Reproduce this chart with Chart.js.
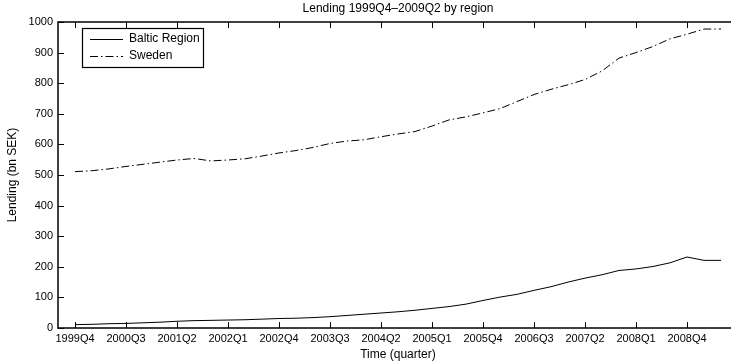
<!DOCTYPE html>
<html>
<head>
<meta charset="utf-8">
<script src="https://cdn.jsdelivr.net/npm/chart.js@4.4.1/dist/chart.umd.min.js"></script>
<style>
  html, body { margin: 0; padding: 0; background: #fff; overflow: hidden; }
  #wrap { width: 745px; height: 364px; }
</style>
</head>
<body>
<div id="wrap"><canvas id="c" width="745" height="364"></canvas></div>
<script>
// Quarterly lending, 1999Q4 .. 2009Q2 (bn SEK)
const quarters = [
  '1999Q4','2000Q1','2000Q2','2000Q3','2000Q4','2001Q1','2001Q2','2001Q3','2001Q4',
  '2002Q1','2002Q2','2002Q3','2002Q4','2003Q1','2003Q2','2003Q3','2003Q4',
  '2004Q1','2004Q2','2004Q3','2004Q4','2005Q1','2005Q2','2005Q3','2005Q4',
  '2006Q1','2006Q2','2006Q3','2006Q4','2007Q1','2007Q2','2007Q3','2007Q4',
  '2008Q1','2008Q2','2008Q3','2008Q4','2009Q1','2009Q2'
];
const balticRegion = [
  11, 12, 14, 15, 17, 19, 22, 24, 25,
  26, 27, 29, 31, 32, 34, 37, 41,
  45, 49, 53, 58, 64, 70, 78, 90,
  101, 110, 123, 135, 150, 163, 174, 188,
  193, 201, 213, 232, 221, 221
];
const sweden = [
  511, 514, 520, 528, 535, 542, 549, 554, 546,
  549, 553, 562, 572, 580, 590, 603, 611,
  615, 625, 634, 642, 660, 680, 690, 703,
  717, 740, 763, 780, 795, 812, 840, 882,
  900, 920, 945, 960, 977, 977
];
// every third quarter gets a labelled tick
const tickEvery = 3;
const yTicks = [0, 100, 200, 300, 400, 500, 600, 700, 800, 900, 1000];

const FONT = '"Liberation Sans", Arial, Helvetica, sans-serif';
const DASH_DOT = [8, 3, 1.5, 3];
const xTickValues = quarters.map((q, i) => i).filter(i => i % tickEvery === 0 && i <= 36);

// Box, inward ticks, title, axis titles and legend in the classic plotting style
const framePlugin = {
  id: 'frame',
  afterDatasetsDraw(chart) {
    const { ctx, chartArea: a, scales } = chart;
    const xs = scales.x, ys = scales.y;
    ctx.save();
    ctx.strokeStyle = '#000';
    ctx.lineWidth = 1;
    // tick marks pointing inward
    ctx.beginPath();
    xTickValues.forEach(v => {
      const px = Math.round(xs.getPixelForValue(v)) + 0.5;
      ctx.moveTo(px, a.bottom); ctx.lineTo(px, a.bottom - 6);
      ctx.moveTo(px, a.top); ctx.lineTo(px, a.top + 6);
    });
    yTicks.forEach(v => {
      const py = Math.round(ys.getPixelForValue(v)) + 0.5;
      ctx.moveTo(a.left, py); ctx.lineTo(a.left + 6, py);
      ctx.moveTo(a.right, py); ctx.lineTo(a.right - 6, py);
    });
    ctx.stroke();
    // axes box
    ctx.lineWidth = 1.5;
    ctx.strokeRect(a.left, a.top, a.right - a.left, a.bottom - a.top);

    // title and axis titles
    ctx.fillStyle = '#000';
    ctx.font = '12px ' + FONT;
    ctx.textAlign = 'center';
    ctx.textBaseline = 'middle';
    const cx = (a.left + a.right) / 2;
    ctx.fillText('Lending 1999Q4\u20132009Q2 by region', cx, 9);
    ctx.fillText('Time (quarter)', cx, 355);
    ctx.save();
    ctx.translate(13, (a.top + a.bottom) / 2);
    ctx.rotate(-Math.PI / 2);
    ctx.fillText('Lending (bn SEK)', 0, 0);
    ctx.restore();

    // legend
    const lx = 82, ly = 28, lw = 121, lh = 39;
    ctx.fillStyle = '#fff';
    ctx.fillRect(lx, ly, lw, lh);
    ctx.lineWidth = 1.2;
    ctx.strokeRect(lx + 0.5, ly + 0.5, lw, lh);
    const rows = [
      { label: 'Baltic Region', dash: [], y: 39 },
      { label: 'Sweden', dash: DASH_DOT, y: 56 }
    ];
    rows.forEach(r => {
      ctx.beginPath();
      ctx.setLineDash(r.dash);
      ctx.lineWidth = 1;
      ctx.moveTo(90, r.y + 0.5); ctx.lineTo(123, r.y + 0.5);
      ctx.stroke();
      ctx.setLineDash([]);
      ctx.fillStyle = '#000';
      ctx.textAlign = 'left';
      ctx.fillText(r.label, 129, r.y);
    });
    ctx.restore();
  }
};

new Chart(document.getElementById('c'), {
  type: 'line',
  data: {
    datasets: [
      {
        label: 'Baltic Region',
        data: balticRegion.map((v, i) => ({ x: i, y: v })),
        borderColor: '#000',
        borderWidth: 1,
        pointRadius: 0,
        tension: 0
      },
      {
        label: 'Sweden',
        data: sweden.map((v, i) => ({ x: i, y: v })),
        borderColor: '#000',
        borderWidth: 1,
        borderDash: DASH_DOT,
        pointRadius: 0,
        tension: 0
      }
    ]
  },
  options: {
    responsive: false,
    animation: false,
    events: [],
    layout: { padding: { left: 0, right: 7, top: 22, bottom: 0 } },
    plugins: { legend: { display: false }, title: { display: false }, tooltip: { enabled: false } },
    scales: {
      x: {
        type: 'linear',
        min: -1,
        max: quarters.length,
        grid: { display: false, drawTicks: false },
        border: { display: false },
        afterBuildTicks(scale) { scale.ticks = xTickValues.map(v => ({ value: v })); },
        afterFit(scale) { scale.height = 36; },
        ticks: {
          autoSkip: false,
          maxRotation: 0,
          padding: 4,
          color: '#000',
          font: { family: FONT, size: 11 },
          callback: v => quarters[v]
        }
      },
      y: {
        min: 0,
        max: 1000,
        grid: { display: false, drawTicks: false },
        border: { display: false },
        afterBuildTicks(scale) { scale.ticks = yTicks.map(v => ({ value: v })); },
        afterFit(scale) { scale.width = 58; },
        ticks: {
          padding: 5,
          color: '#000',
          font: { family: FONT, size: 11 },
          callback: v => String(v)
        }
      }
    }
  },
  plugins: [framePlugin]
});
</script>
</body>
</html>
